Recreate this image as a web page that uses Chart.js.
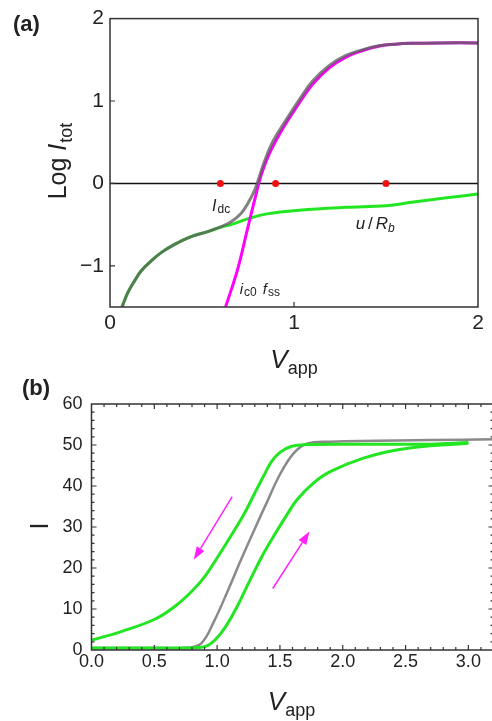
<!DOCTYPE html>
<html>
<head>
<meta charset="utf-8">
<script src="https://cdn.jsdelivr.net/npm/chart.js@4.4.1/dist/chart.umd.min.js"></script>
<style>
  body { margin: 0; background: #fff; overflow: hidden; width: 492px; height: 721px; position: relative; }
  #panelA { position: absolute; left: 0; top: 0; }
  #panelB { position: absolute; left: 0; top: 360px; }
</style>
</head>
<body>
<canvas id="panelA" width="492" height="380"></canvas>
<canvas id="panelB" width="497" height="361"></canvas>
<script>
const FAM = '"Liberation Sans", Arial, sans-serif';

// Panel (a): log of total current and its parts
const vTot = [0.065, 0.098, 0.134, 0.170, 0.224, 0.278, 0.351, 0.441, 0.531, 0.604, 0.658, 0.712, 0.748, 0.785, 0.81, 0.84, 0.888, 0.96, 1.03, 1.10, 1.19, 1.28, 1.37, 1.46, 1.55, 1.64, 1.80, 2.0];
const logTot = [-1.5, -1.32, -1.18, -1.06, -0.94, -0.84, -0.74, -0.645, -0.585, -0.525, -0.466, -0.366, -0.246, -0.087, 0.07, 0.27, 0.52, 0.78, 1.02, 1.24, 1.43, 1.55, 1.62, 1.67, 1.69, 1.70, 1.705, 1.705];
const vRb = [0.065, 0.098, 0.134, 0.170, 0.224, 0.278, 0.351, 0.441, 0.531, 0.604, 0.658, 0.748, 0.853, 1.03, 1.28, 1.50, 1.64, 1.83, 2.0];
const logRb = [-1.5, -1.32, -1.18, -1.06, -0.94, -0.84, -0.74, -0.645, -0.585, -0.53, -0.5, -0.43, -0.37, -0.325, -0.29, -0.27, -0.23, -0.175, -0.13];
const vFss = [0.628, 0.694, 0.748, 0.793, 0.82, 0.87, 0.94, 1.015, 1.10, 1.19, 1.28, 1.37, 1.46, 1.55, 1.64, 1.80, 2.0];
const logFss = [-1.5, -1.04, -0.545, -0.14, 0.09, 0.38, 0.67, 0.93, 1.20, 1.40, 1.53, 1.61, 1.665, 1.69, 1.70, 1.705, 1.705];
const vDots = [0.6, 0.9, 1.5];
const logDots = [0, 0, 0];
const vZero = [0, 2];
const logZero = [0, 0];

// Panel (b): current during a voltage sweep
const vGray = [0, 0.5, 0.77, 0.874, 0.98, 1.087, 1.19, 1.30, 1.40, 1.50, 1.607, 1.713, 1.90, 2.7, 3.2];
const iGray = [0.5, 0.5, 0.6, 1.6, 7.3, 14.6, 22, 29.6, 36.3, 42.8, 47.9, 50.3, 50.8, 51.2, 51.4];
const vUp = [0, 0.5, 0.85, 0.933, 1.04, 1.145, 1.25, 1.36, 1.463, 1.56, 1.634, 1.766, 1.90, 2.164, 2.43, 2.695, 3.0];
const iUp = [0.5, 0.5, 0.6, 1.2, 4.5, 9.8, 16.3, 23.0, 28.4, 33.2, 36.6, 40.7, 43.5, 46.8, 48.8, 49.8, 50.4];
const vDown = [0, 0.237, 0.503, 0.662, 0.795, 0.901, 1.007, 1.113, 1.22, 1.30, 1.368, 1.43, 1.50, 1.594, 1.713, 2.164, 2.695, 3.0];
const iDown = [2.4, 4.5, 7.5, 10.6, 14.2, 17.9, 22.8, 28.0, 33.5, 38.3, 42.3, 45.8, 48.2, 49.7, 50.1, 50.2, 50.2, 50.6];
const arrowDown = [[1.12, 37.4], [0.814, 22]];
const arrowUp = [[1.443, 15], [1.735, 28.9]];

const toPts = (xs, ys) => xs.map((x, i) => ({ x, y: ys[i] }));
const isMult = (v, m) => Math.abs(v / m - Math.round(v / m)) < 1e-6;

function curve(data, color, width, order) {
  return { data, showLine: true, pointRadius: 0, borderColor: color, borderWidth: width,
    tension: 0.4, fill: false, order };
}

// draw text made of pieces (italic, subscripts) starting at x, baseline y
function drawParts(ctx, x, y, parts) {
  parts.forEach(p => {
    ctx.font = p.font;
    ctx.fillText(p.t, x, y + (p.dy || 0));
    x += ctx.measureText(p.t).width + (p.gap || 0);
  });
}
function partsWidth(ctx, parts) {
  return parts.reduce((w, p) => { ctx.font = p.font; return w + ctx.measureText(p.t).width + (p.gap || 0); }, 0);
}

// frame with inward ticks
const frameTicks = {
  id: 'frameTicks',
  afterDraw(chart, args, o) {
    const { ctx, chartArea: a, scales: { x, y } } = chart;
    ctx.save();
    ctx.strokeStyle = '#333';
    ctx.lineWidth = 1.5;
    ctx.strokeRect(a.left, a.top, a.right - a.left, a.bottom - a.top);
    ctx.lineWidth = 1.2;
    ctx.beginPath();
    x.ticks.forEach(t => {
      const len = isMult(t.value, o.xMajor) ? o.majorLen : o.minorLen;
      if (!len || t.value <= x.min || t.value >= x.max) return;
      const px = x.getPixelForValue(t.value);
      if (o.sides.includes('bottom')) { ctx.moveTo(px, a.bottom); ctx.lineTo(px, a.bottom - len); }
      if (o.sides.includes('top')) { ctx.moveTo(px, a.top); ctx.lineTo(px, a.top + len); }
    });
    y.ticks.forEach(t => {
      const len = isMult(t.value, o.yMajor) ? o.majorLen : o.minorLen;
      if (!len || t.value <= y.min || t.value >= y.max) return;
      const py = y.getPixelForValue(t.value);
      if (o.sides.includes('left')) { ctx.moveTo(a.left, py); ctx.lineTo(a.left + len, py); }
      if (o.sides.includes('right')) { ctx.moveTo(a.right, py); ctx.lineTo(a.right - len, py); }
    });
    ctx.stroke();
    ctx.restore();
  }
};

// labels, axis titles, arrows
const notes = {
  id: 'notes',
  afterDraw(chart, args, o) {
    const { ctx, chartArea: a, scales: { x, y } } = chart;
    ctx.save();
    ctx.fillStyle = '#222';
    ctx.textBaseline = 'alphabetic';
    ctx.textAlign = 'left';
    (o.labels || []).forEach(l => {
      drawParts(ctx, x.getPixelForValue(l.x), y.getPixelForValue(l.y), l.parts);
    });
    // x title centred under the plot
    const xw = partsWidth(ctx, o.xTitle);
    drawParts(ctx, (a.left + a.right) / 2 - xw / 2 + o.xShift, a.bottom + o.xTitleGap, o.xTitle);
    // y title, rotated
    ctx.save();
    ctx.translate(o.yTitleAt[0], o.yTitleAt[1]);
    ctx.rotate(-Math.PI / 2);
    const yw = partsWidth(ctx, o.yTitle);
    drawParts(ctx, -yw / 2, 0, o.yTitle);
    ctx.restore();
    // panel tag
    ctx.font = 'bold 22px ' + FAM;
    ctx.fillText(o.tag, o.tagAt[0], o.tagAt[1]);
    // arrows
    (o.arrows || []).forEach(ar => {
      const x0 = x.getPixelForValue(ar[0][0]), y0 = y.getPixelForValue(ar[0][1]);
      const x1 = x.getPixelForValue(ar[1][0]), y1 = y.getPixelForValue(ar[1][1]);
      const ang = Math.atan2(y1 - y0, x1 - x0);
      const hl = 13, hw = 4.5;
      ctx.strokeStyle = '#ff22ff';
      ctx.fillStyle = '#ff22ff';
      ctx.lineWidth = 1.5;
      ctx.beginPath();
      ctx.moveTo(x0, y0);
      ctx.lineTo(x1 - hl * Math.cos(ang), y1 - hl * Math.sin(ang));
      ctx.stroke();
      ctx.beginPath();
      ctx.moveTo(x1, y1);
      ctx.lineTo(x1 - hl * Math.cos(ang) + hw * Math.sin(ang), y1 - hl * Math.sin(ang) - hw * Math.cos(ang));
      ctx.lineTo(x1 - hl * Math.cos(ang) - hw * Math.sin(ang), y1 - hl * Math.sin(ang) + hw * Math.cos(ang));
      ctx.closePath();
      ctx.fill();
    });
    ctx.restore();
  }
};

const tickFont = size => ({ family: FAM, size });
const minus = v => (v < 0 ? '\u2212' + Math.abs(v) : String(v));

// Panel (a)
new Chart(document.getElementById('panelA'), {
  type: 'scatter',
  data: {
    datasets: [
      { data: toPts(vDots, logDots), pointRadius: 3.5, pointBorderWidth: 0, pointBackgroundColor: '#ee1111', showLine: false, order: 0 },
      curve(toPts(vTot, logTot), 'rgba(95,95,95,0.78)', 3, 1),
      curve(toPts(vFss, logFss), '#ff00ff', 3, 2),
      curve(toPts(vRb, logRb), '#22e622', 3, 3),
      { data: toPts(vZero, logZero), showLine: true, pointRadius: 0, borderColor: '#111', borderWidth: 1.5, order: 4 }
    ]
  },
  options: {
    responsive: false,
    animation: false,
    layout: { padding: { top: 15, right: 14, left: 0, bottom: 0 } },
    plugins: {
      legend: { display: false },
      tooltip: { enabled: false },
      frameTicks: { xMajor: 1, yMajor: 1, majorLen: 5, minorLen: 0, sides: ['bottom', 'left'] },
      notes: {
        labels: [
          { x: 0.555, y: -0.34, parts: [{ t: 'I', font: 'italic 16px ' + FAM, gap: 1 }, { t: 'dc', font: '12px ' + FAM, dy: 2 }] },
          { x: 1.335, y: -0.55, parts: [{ t: 'u', font: 'italic 17px ' + FAM, gap: 3 }, { t: '/', font: '17px ' + FAM, gap: 3 }, { t: 'R', font: 'italic 17px ' + FAM }, { t: 'b', font: 'italic 12px ' + FAM, dy: 3 }] },
          { x: 0.705, y: -1.345, parts: [{ t: 'i', font: 'italic 15px ' + FAM, gap: 1 }, { t: 'c0', font: '12px ' + FAM, dy: 2, gap: 6 }, { t: 'f', font: 'italic 15px ' + FAM, gap: 1 }, { t: 'ss', font: '12px ' + FAM, dy: 2 }] }
        ],
        xTitle: [{ t: 'V', font: 'italic 26px ' + FAM }, { t: 'app', font: '18px ' + FAM, dy: 6 }],
        xTitleGap: 61, xShift: 0,
        yTitle: [{ t: 'Log ', font: '25px ' + FAM }, { t: 'I', font: 'italic 25px ' + FAM, gap: 1 }, { t: 'tot', font: '18px ' + FAM, dy: 6 }],
        yTitleAt: [66, 161],
        tag: '(a)', tagAt: [13, 31]
      }
    },
    scales: {
      x: {
        type: 'linear', min: 0, max: 2,
        grid: { display: false, drawTicks: false }, border: { display: false },
        ticks: { stepSize: 1, autoSkip: false, maxRotation: 0, padding: 4, color: '#222', font: tickFont(21) },
        afterFit: s => { s.height = 73; }
      },
      y: {
        type: 'linear', min: -1.5, max: 2,
        grid: { display: false, drawTicks: false }, border: { display: false },
        ticks: { stepSize: 0.5, autoSkip: false, padding: 6, color: '#222', font: tickFont(21),
          callback: v => (Number.isInteger(v) ? minus(v) : '') },
        afterFit: s => { s.width = 110; }
      }
    }
  },
  plugins: [frameTicks, notes]
});

// Panel (b)
new Chart(document.getElementById('panelB'), {
  type: 'scatter',
  data: {
    datasets: [
      curve(toPts(vUp, iUp), '#22e622', 3, 1),
      curve(toPts(vDown, iDown), '#22e622', 3, 1),
      curve(toPts(vGray, iGray), '#8a8a8a', 2.5, 2)
    ]
  },
  options: {
    responsive: false,
    animation: false,
    layout: { padding: { top: 44, right: 3.5, left: 0, bottom: 0 } },
    plugins: {
      legend: { display: false },
      tooltip: { enabled: false },
      frameTicks: { xMajor: 0.5, yMajor: 10, majorLen: 5, minorLen: 3, sides: ['bottom', 'top', 'left', 'right'] },
      notes: {
        xTitle: [{ t: 'V', font: 'italic 26px ' + FAM }, { t: 'app', font: '18px ' + FAM, dy: 6 }],
        xTitleGap: 60, xShift: -1,
        yTitle: [{ t: 'I', font: '25px ' + FAM }],
        yTitleAt: [48, 166],
        tag: '(b)', tagAt: [22, 35],
        arrows: [arrowDown, arrowUp]
      }
    },
    scales: {
      x: {
        type: 'linear', min: 0, max: 3.2,
        grid: { display: false, drawTicks: false }, border: { display: false },
        ticks: { stepSize: 0.1, autoSkip: false, maxRotation: 0, padding: 1, color: '#222', font: tickFont(18),
          callback: v => (isMult(v, 0.5) ? v.toFixed(1) : '') },
        afterFit: s => { s.height = 71; }
      },
      y: {
        type: 'linear', min: 0, max: 60,
        grid: { display: false, drawTicks: false }, border: { display: false },
        ticks: { stepSize: 2, autoSkip: false, padding: 9, color: '#222', font: tickFont(18),
          callback: v => (isMult(v, 10) ? String(v) : '') },
        afterFit: s => { s.width = 91.5; }
      }
    }
  },
  plugins: [frameTicks, notes]
});
</script>
</body>
</html>
